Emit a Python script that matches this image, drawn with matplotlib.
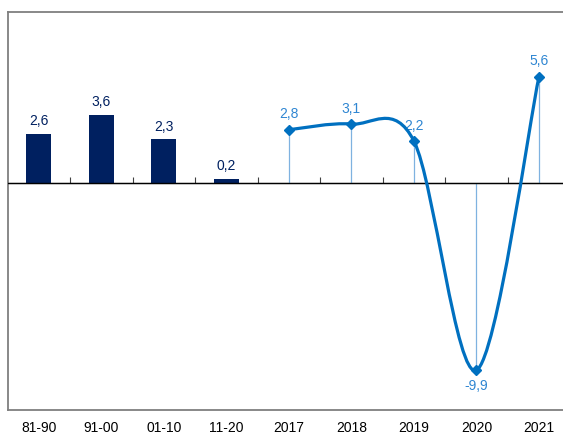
import matplotlib
matplotlib.use("Agg")
import matplotlib.pyplot as plt
from matplotlib.path import Path
from matplotlib.patches import PathPatch
from matplotlib import font_manager
import numpy as np

# ---- data ----
categories = ["81-90", "91-00", "01-10", "11-20", "2017", "2018", "2019", "2020", "2021"]
bar_values = [2.6, 3.6, 2.3, 0.2]
line_values = [2.8, 3.1, 2.2, -9.9, 5.6]

# ---- font ----
fam = ["DejaVu Sans"]
for cand in ["Liberation Sans Narrow", "Liberation Sans"]:
    try:
        font_manager.findfont(cand, fallback_to_default=False)
        fam = [cand, "DejaVu Sans"]
        break
    except Exception:
        pass
plt.rcParams["font.family"] = fam

NAVY = "#002060"
BLUE = "#0070C0"
LBLUE = "#2F86D2"
DROP = "#7FB2E0"
FRAME = "#7F7F7F"

fig = plt.figure(figsize=(5.63, 4.37), dpi=100)
ymin, ymax = -12, 9
ax = fig.add_axes([7.7 / 563, 1 - 410 / 437, 9 * 62.5 / 563, (410 - 12.3) / 437])
ax.set_xlim(-0.5, len(categories) - 0.5)
ax.set_ylim(ymin, ymax)

# bars
bx = np.arange(len(bar_values))
ax.bar(bx, bar_values, width=0.4, color=NAVY, zorder=3)
for x, v in zip(bx, bar_values):
    ax.annotate(f"{v:.1f}".replace(".", ","), (x, v), xytext=(0, 4), textcoords="offset points",
                ha="center", va="bottom", color=NAVY, fontsize=10)

# line (Excel-like smoothed bezier)
lx = np.arange(len(bar_values), len(categories)).astype(float)
ly = np.array(line_values, dtype=float)
P = np.column_stack([lx, ly])
n = len(P)
verts = [tuple(P[0])]
codes = [Path.MOVETO]
k = 0.16
for i in range(n - 1):
    p0 = P[i - 1] if i > 0 else P[i]
    p1 = P[i]
    p2 = P[i + 1]
    p3 = P[i + 2] if i + 2 < n else P[i + 1]
    c1 = p1 + (p2 - p0) * k
    c2 = p2 - (p3 - p1) * k
    verts += [tuple(c1), tuple(c2), tuple(p2)]
    codes += [Path.CURVE4] * 3
ax.add_patch(PathPatch(Path(verts, codes), facecolor="none", edgecolor=BLUE, lw=2.3, zorder=4,
                       capstyle="round", joinstyle="round"))
ax.vlines(lx, 0, ly, color=DROP, lw=0.9, zorder=2)
ax.plot(lx, ly, linestyle="none", marker="D", markersize=5, color=BLUE, zorder=5)
for x, v in zip(lx, ly):
    off = 6 if v >= 0 else -6
    ax.annotate(f"{v:.1f}".replace(".", ","), (x, v), xytext=(0, off), textcoords="offset points",
                ha="center", va="bottom" if v >= 0 else "top", color=LBLUE, fontsize=10)

# zero line with ticks at category boundaries
ax.axhline(0, color="black", lw=1.0, zorder=3)
sec = ax.secondary_xaxis((0 - ymin) / (ymax - ymin))
sec.spines["bottom"].set_visible(False)
sec.set_xticks(np.arange(0.5, len(categories), 1.0))
sec.xaxis.set_ticklabels([])
sec.tick_params(axis="x", direction="out", length=4, width=0.8, color="#404040")

# frame
for s in ["top", "left", "bottom", "right"]:
    ax.spines[s].set_color(FRAME)
    ax.spines[s].set_linewidth(1.3)
ax.set_yticks([])
ax.set_xticks(np.arange(len(categories)))
ax.set_xticklabels(categories, fontsize=10, color="black")
ax.tick_params(axis="x", length=0, pad=8)

fig.savefig("out.png", dpi=100)
